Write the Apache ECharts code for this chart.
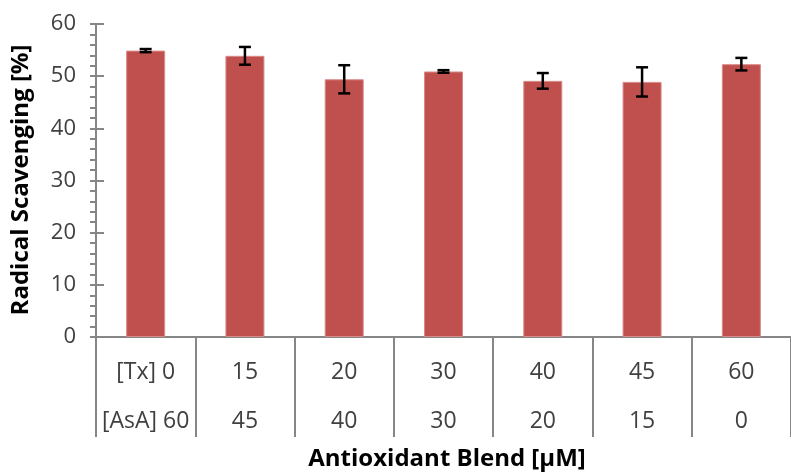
<!DOCTYPE html>
<html>
<head>
<meta charset="utf-8">
<script src="https://cdn.jsdelivr.net/npm/echarts@6/dist/echarts.min.js"></script>
<style>html,body{margin:0;padding:0;background:#fff}#c{width:791px;height:474px}</style>
</head>
<body>
<div id="c"></div>
<script>
const txLabels = ['[Tx] 0', '15', '20', '30', '40', '45', '60'];
const asaLabels = ['[AsA] 60', '45', '40', '30', '20', '15', '0'];
const values = [54.9, 53.9, 49.4, 50.9, 49.1, 48.9, 52.3];
const errors = [0.3, 1.7, 2.7, 0.25, 1.5, 2.8, 1.2];
const yTicks = [0, 10, 20, 30, 40, 50, 60];

const categories = txLabels.map((t, i) => t + '\n' + asaLabels[i]);
const gray = '#868686';
const font = 'Open Sans';

const chart = echarts.init(document.getElementById('c'));
chart.setOption({
  animation: false,
  backgroundColor: '#fff',
  grid: { left: 96, top: 24, width: 704, height: 313 },
  xAxis: {
    type: 'category',
    data: categories,
    axisLine: { lineStyle: { color: gray, width: 2 } },
    axisTick: { show: true, length: 100, interval: 0, lineStyle: { color: gray, width: 2 } },
    axisLabel: { interval: 0, color: '#404040', fontFamily: font, fontSize: 23, lineHeight: 49, margin: 11 }
  },
  yAxis: [{
    type: 'value',
    min: yTicks[0], max: yTicks[yTicks.length - 1], interval: 10,
    splitLine: { show: false },
    axisLine: { show: true, lineStyle: { color: gray, width: 2 } },
    axisTick: { show: true, length: 6, lineStyle: { color: gray, width: 2 } },
    minorTick: { show: true, splitNumber: 5, length: 6, lineStyle: { color: gray, width: 2 } },
    axisLabel: { color: '#404040', fontFamily: font, fontSize: 22, margin: 20 }
  }, {
    type: 'value', position: 'left',
    min: yTicks[0], max: yTicks[yTicks.length - 1], interval: 10,
    splitLine: { show: false },
    axisLine: { show: false },
    axisTick: { show: true, inside: true, length: 8, lineStyle: { color: gray, width: 2 } },
    axisLabel: { show: false }
  }],
  series: [{
    type: 'bar',
    data: values,
    barWidth: 39,
    itemStyle: { color: '#C0504D', borderColor: '#D98A88', borderWidth: 1 }
  }, {
    type: 'custom',
    data: values.map((v, i) => [i, v, errors[i]]),
    z: 10,
    renderItem: function (params, api) {
      const x = api.value(0), v = api.value(1), e = api.value(2);
      const top = api.coord([x, v + e]);
      const bot = api.coord([x, v - e]);
      const hw = 6;
      const st = { stroke: '#000', lineWidth: 2.5 };
      return {
        type: 'group',
        children: [
          { type: 'line', shape: { x1: top[0], y1: top[1], x2: bot[0], y2: bot[1] }, style: st },
          { type: 'line', shape: { x1: top[0] - hw, y1: top[1], x2: top[0] + hw, y2: top[1] }, style: st },
          { type: 'line', shape: { x1: bot[0] - hw, y1: bot[1], x2: bot[0] + hw, y2: bot[1] }, style: st }
        ]
      };
    }
  }],
  graphic: [{
    type: 'text', x: 21, y: 180, rotation: Math.PI / 2,
    style: { text: 'Radical Scavenging [%]', font: 'bold 24px "Open Sans"', fill: '#000', align: 'center', verticalAlign: 'middle' }
  }, {
    type: 'text', x: 447, y: 459,
    style: { text: 'Antioxidant Blend [µM]', font: 'bold 24px "Open Sans"', fill: '#000', align: 'center', verticalAlign: 'middle' }
  }]
});
</script>
</body>
</html>
